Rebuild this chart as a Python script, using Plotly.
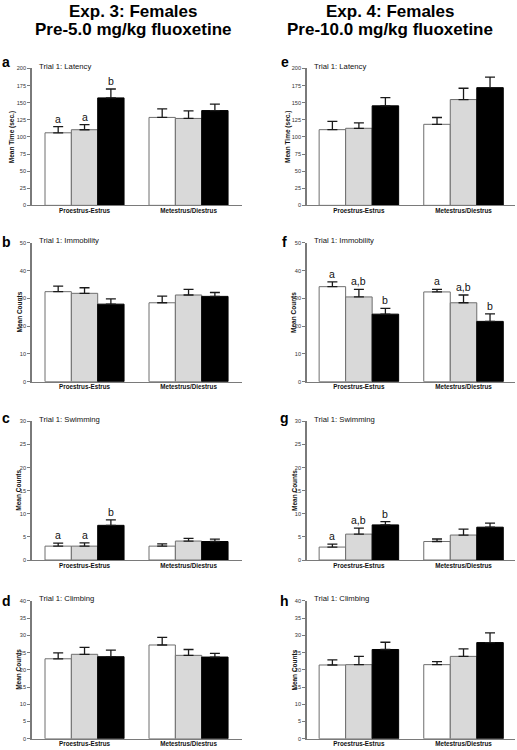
import plotly.graph_objects as go

W, H = 517, 750

groups = ["Proestrus-Estrus", "Metestrus/Diestrus"]
series_names = ["Vehicle", "Fluoxetine low", "Fluoxetine high"]
bar_fills = ["#ffffff", "#d9d9d9", "#000000"]
bar_lines = ["#6e6e6e", "#6e6e6e", "#000000"]

# panel data: means[series][group], sems[series][group], significance letters
panel_letters = ["a", "b", "c", "d", "e", "f", "g", "h"]
panel_titles = ["Trial 1: Latency", "Trial 1: Immobility", "Trial 1: Swimming", "Trial 1: Climbing"] * 2
y_titles = ["Mean Time (sec.)", "Mean Counts", "Mean Counts", "Mean Counts"] * 2
y_max = [200, 50, 30, 40] * 2
y_dtick = [25, 10, 5, 5] * 2

means_a = [[106, 128.5], [110.5, 127], [157, 138.5]]
sems_a = [[9, 12.5], [7.5, 11], [13, 9.5]]
sig_a = [["a", ""], ["a", ""], ["b", ""]]

means_b = [[32.4, 28.4], [31.8, 31.2], [27.9, 30.7]]
sems_b = [[2.0, 2.4], [2.0, 2.0], [1.9, 1.4]]
sig_b = [["", ""], ["", ""], ["", ""]]

means_c = [[3.0, 3.0], [3.0, 4.1], [7.5, 4.0]]
sems_c = [[0.65, 0.5], [0.7, 0.6], [1.2, 0.5]]
sig_c = [["a", ""], ["a", ""], ["b", ""]]

means_d = [[23.2, 27.2], [24.5, 24.2], [23.8, 23.7]]
sems_d = [[1.7, 2.2], [2.0, 1.7], [1.9, 1.1]]
sig_d = [["", ""], ["", ""], ["", ""]]

means_e = [[110.6, 118.4], [112.6, 154.6], [145.4, 172]]
sems_e = [[12, 10], [8, 16.5], [12, 15.5]]
sig_e = [["", ""], ["", ""], ["", ""]]

means_f = [[34.2, 32.3], [30.5, 28.4], [24.3, 21.7]]
sems_f = [[1.7, 0.9], [2.7, 2.8], [2.1, 2.7]]
sig_f = [["a", "a"], ["a,b", "a,b"], ["b", "b"]]

means_g = [[2.8, 4.0], [5.6, 5.4], [7.6, 7.1]]
sems_g = [[0.65, 0.55], [1.3, 1.3], [0.7, 0.9]]
sig_g = [["a", ""], ["a,b", ""], ["b", ""]]

means_h = [[21.4, 21.5], [21.5, 23.9], [25.9, 27.9]]
sems_h = [[1.5, 0.9], [2.4, 2.2], [2.1, 2.8]]
sig_h = [["", ""], ["", ""], ["", ""]]

all_means = [means_a, means_b, means_c, means_d, means_e, means_f, means_g, means_h]
all_sems = [sems_a, sems_b, sems_c, sems_d, sems_e, sems_f, sems_g, sems_h]
all_sig = [sig_a, sig_b, sig_c, sig_d, sig_e, sig_f, sig_g, sig_h]

col_titles = [("Exp. 3: Females", "Pre-5.0 mg/kg fluoxetine"),
              ("Exp. 4: Females", "Pre-10.0 mg/kg fluoxetine")]

# ---- layout geometry (pixels) ----
rows_px = [(66, 204), (241.7, 381.7), (421.7, 561.5), (602.7, 741.7)]
cols_px = [(32, 242), (307, 515)]
x_ranges = [[-0.505, 1.514], [-0.496, 1.492]]
title_cx = [133, 390]
letter_cx = [6, 284.5]
letter_base = [64, 245.5, 423, 608]
ytitle_x = [[12.3, 19.3, 19, 19], [288, 293.7, 294.3, 294.7]]

BARGAP = 0.24
bar_w = (1 - BARGAP) / 3


def px(x):
    return x / W


def py(y):
    return 1 - y / H


FONT = "Liberation Sans, Arial, sans-serif"
TXT = "#111111"
AXC = "#7a7a7a"

fig = go.Figure()
annotations = []
layout_axes = {}

for k in range(8):
    col, row = divmod(k, 4)
    idx = k + 1
    xa = "x" if idx == 1 else f"x{idx}"
    ya = "y" if idx == 1 else f"y{idx}"
    xkey = "xaxis" if idx == 1 else f"xaxis{idx}"
    ykey = "yaxis" if idx == 1 else f"yaxis{idx}"
    means, sems, sig = all_means[k], all_sems[k], all_sig[k]
    for s in range(3):
        fig.add_trace(go.Bar(
            x=[0, 1], y=means[s], name=series_names[s], showlegend=False,
            xaxis=xa, yaxis=ya, offsetgroup=str(s),
            marker=dict(color=bar_fills[s], line=dict(color=bar_lines[s], width=1)),
            error_y=dict(type="data", array=sems[s], arrayminus=[0, 0], symmetric=False,
                         color="#1a1a1a", thickness=1.3, width=5),
        ))
        for g in range(2):
            if sig[s][g]:
                annotations.append(dict(
                    x=g + (s - 1) * bar_w, y=means[s][g] + sems[s][g],
                    xref=xa, yref=ya, text=sig[s][g], showarrow=False,
                    xanchor="center", yanchor="middle", yshift=8,
                    font=dict(family=FONT, size=10.5, color=TXT)))
    x0, x1 = cols_px[col]
    ytop, ybot = rows_px[row]
    layout_axes[xkey] = dict(
        domain=[px(x0), px(x1)], range=x_ranges[col], anchor=ya,
        tickvals=[0, 1], ticktext=[f"<b>{gname}</b>" for gname in groups],
        tickfont=dict(family=FONT, size=6.3, color=TXT), ticks="",
        ticklabelstandoff=-1,
        showline=True, linecolor=AXC, linewidth=1.2, showgrid=False, zeroline=False,
        fixedrange=True)
    layout_axes[ykey] = dict(
        domain=[py(ybot), py(ytop)], range=[0, y_max[k]], anchor=xa,
        dtick=y_dtick[k], tick0=0, ticks="outside", ticklen=3, tickwidth=1, tickcolor=AXC,
        tickfont=dict(family=FONT, size=5.6, color="#333333"),
        showline=True, linecolor=AXC, linewidth=1.6, showgrid=False, zeroline=False,
        fixedrange=True)
    # trial title
    annotations.append(dict(
        x=px(x0 + 4.5), y=py(ytop - 2), xref="paper", yref="paper",
        text=panel_titles[k], showarrow=False, xanchor="left", yanchor="middle",
        font=dict(family=FONT, size=7.7, color=TXT)))
    # y title
    annotations.append(dict(
        x=px(ytitle_x[col][row]), y=py((ytop + ybot) / 2), xref="paper", yref="paper",
        text=f"<b>{y_titles[k]}</b>", showarrow=False, textangle=-90,
        xanchor="center", yanchor="middle",
        font=dict(family=FONT, size=6.5, color=TXT)))
    # panel letter
    annotations.append(dict(
        x=px(letter_cx[col]), y=py(letter_base[row] - 0.35 * 14), xref="paper", yref="paper",
        text=f"<b>{panel_letters[k]}</b>", showarrow=False, xanchor="center", yanchor="middle",
        font=dict(family=FONT, size=14, color="#000000")))

for col in range(2):
    for line, base in zip(col_titles[col], [15, 32.3]):
        annotations.append(dict(
            x=px(title_cx[col]), y=py(base - 0.35 * 17), xref="paper", yref="paper",
            text=f"<b>{line}</b>", showarrow=False, xanchor="center", yanchor="middle",
            font=dict(family=FONT, size=17, color="#000000")))

fig.update_layout(
    width=W, height=H, margin=dict(l=0, r=0, t=0, b=0),
    paper_bgcolor="white", plot_bgcolor="white",
    barmode="group", bargap=BARGAP, bargroupgap=0,
    annotations=annotations, showlegend=False,
    **layout_axes)

fig.write_html("out.html", config={"displayModeBar": False},
               post_script="document.body.style.margin='0';document.body.style.overflow='hidden';")
